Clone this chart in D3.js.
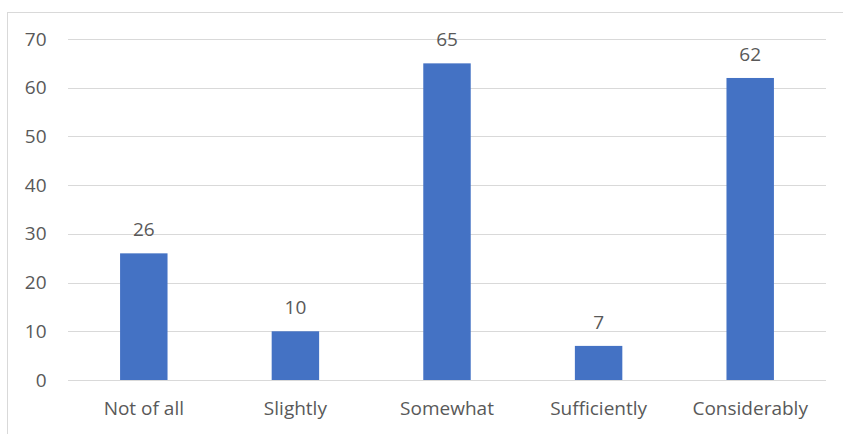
<!DOCTYPE html>
<html>
<head>
<meta charset="utf-8">
<script src="https://cdn.jsdelivr.net/npm/d3@7"></script>
<style>
  html, body { margin: 0; padding: 0; background: #ffffff; }
  svg { display: block; }
  text { font-family: "Open Sans", "Noto Sans", sans-serif; fill: #595959; }
</style>
</head>
<body>
<svg id="chart" width="843" height="434"></svg>
<script>
// Responses per level
const categories = ["Not of all", "Slightly", "Somewhat", "Sufficiently", "Considerably"];
const values = [26, 10, 65, 7, 62];
const yTicks = [0, 10, 20, 30, 40, 50, 60, 70];

const width = 843, height = 434;
const margin = { left: 68, right: 17, top: 39, bottom: 54 };

const svg = d3.select("#chart");

// Chart frame (light border on top and left)
svg.append("rect")
  .attr("x", 7.5).attr("y", 12.5)
  .attr("width", width).attr("height", height)
  .attr("fill", "none")
  .attr("stroke", "#d9d9d9")
  .attr("stroke-width", 1);

const x = d3.scaleBand()
  .domain(categories)
  .range([margin.left, width - margin.right])
  .paddingInner(0.687)
  .paddingOuter(0.3435);

const y = d3.scaleLinear()
  .domain([0, 70])
  .range([height - margin.bottom, margin.top]);

// Horizontal gridlines
svg.append("g")
  .selectAll("line")
  .data(yTicks)
  .join("line")
  .attr("x1", margin.left)
  .attr("x2", width - margin.right)
  .attr("y1", d => Math.round(y(d)) + 0.5)
  .attr("y2", d => Math.round(y(d)) + 0.5)
  .attr("stroke", "#d9d9d9")
  .attr("stroke-width", 1);

// Y axis labels
const yAxis = d3.axisLeft(y).tickValues(yTicks).tickSize(0).tickPadding(0);
const gy = svg.append("g")
  .attr("transform", `translate(${margin.left - 21.5},0)`)
  .call(yAxis);
gy.select(".domain").remove();
gy.selectAll("text")
  .attr("font-size", 19)
  .attr("fill", "#595959")
  .style("font-family", "'Open Sans', 'Noto Sans', sans-serif");

// Bars
svg.append("g")
  .selectAll("rect")
  .data(values)
  .join("rect")
  .attr("x", (d, i) => x(categories[i]))
  .attr("width", x.bandwidth())
  .attr("y", d => y(d))
  .attr("height", d => y(0) - y(d))
  .attr("fill", "#4472c4");

// Value labels
svg.append("g")
  .selectAll("text")
  .data(values)
  .join("text")
  .attr("x", (d, i) => x(categories[i]) + x.bandwidth() / 2)
  .attr("y", d => y(d) - 17)
  .attr("text-anchor", "middle")
  .attr("font-size", 19)
  .text(d => d);

// X axis labels
const xAxis = d3.axisBottom(x).tickSize(0).tickPadding(0);
const gx = svg.append("g")
  .attr("transform", `translate(0,${y(0)})`)
  .call(xAxis);
gx.select(".domain").remove();
gx.selectAll("text")
  .attr("dy", null)
  .attr("y", 35)
  .attr("font-size", 19)
  .attr("fill", "#595959")
  .style("font-family", "'Open Sans', 'Noto Sans', sans-serif");
</script>
</body>
</html>
